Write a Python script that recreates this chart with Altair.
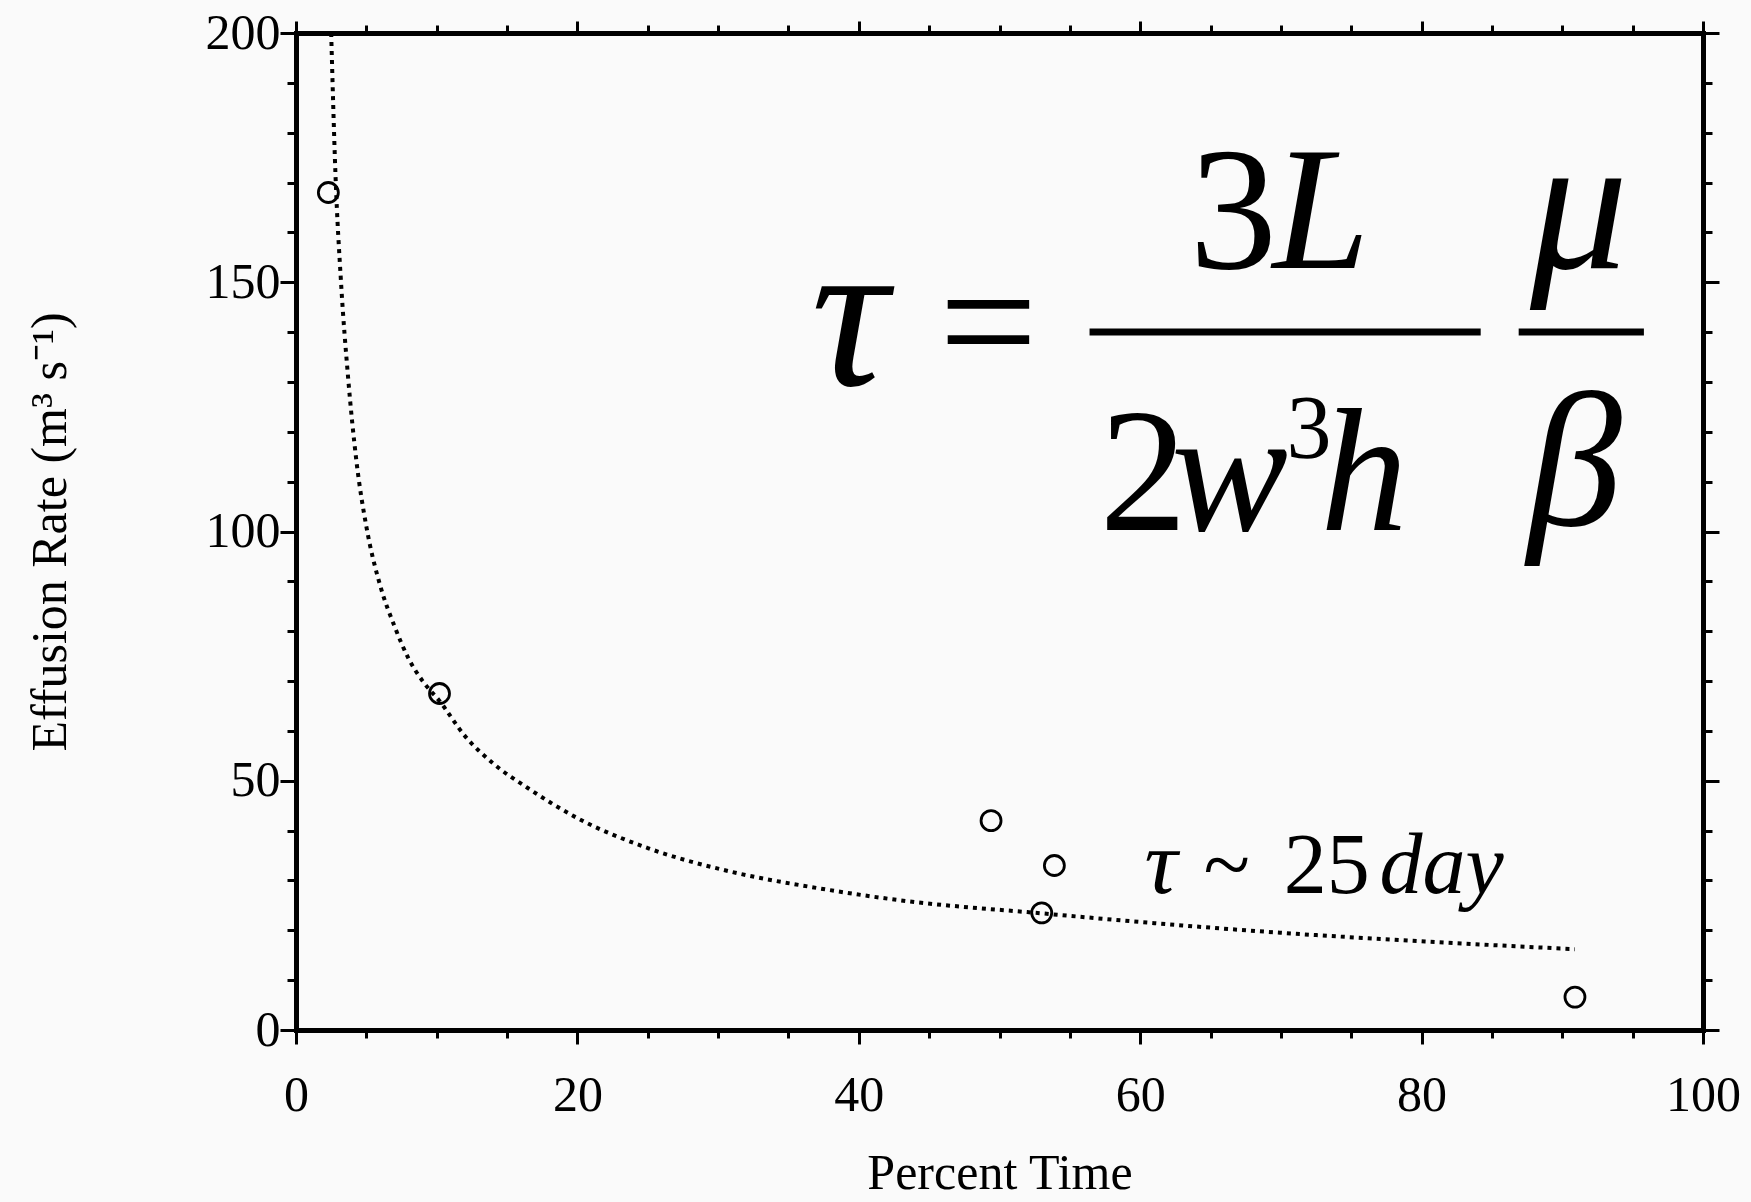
import altair as alt
import pandas as pd

# Observed effusion rates (m^3/s) against percent of time
pct_time = [2.3, 10.2, 49.4, 53.0, 53.9, 90.9]
effusion = [168, 67.5, 42, 23.5, 33, 6.6]

# Fitted decay curve (dotted)
fit_time = [2.5, 2.8, 3.2, 3.7, 4.3, 5.0, 6.0, 7.0, 8.0, 9.0, 10.2, 12.0,
            14.0, 16.5, 20.0, 25.0, 31.0, 37.0, 43.0, 53.0, 62.0, 70.0, 80.0, 90.9]
fit_rate = [200, 172, 150, 131, 114, 101, 89, 81, 74.5, 70, 66, 59,
            53.5, 48.5, 42.5, 36.5, 31.7, 28.5, 26, 23.4, 21.2, 19.5, 17.8, 16.2]

# Equation annotation pieces: text, left x, baseline y, font size
italic_text = ["τ", "L", "w", "h", "μ", "β", "τ", "day"]
italic_x = [36.6, 69.4, 62.2, 72.8, 87.7, 87.5, 60.3, 77.0]
italic_y = [129.4, 152.9, 100.3, 100.3, 152.9, 101.3, 27.5, 27.5]
italic_size = [215, 175, 175, 175, 195, 190, 92, 86]

upright_text = ["=", "3", "2", "3", "~", "25"]
upright_x = [45.7, 63.5, 57.1, 70.4, 64.5, 70.2]
upright_y = [130.4, 152.9, 100.3, 114.7, 27.5, 27.5]
upright_size = [175, 175, 175, 90, 86, 86]

# Fraction bars: start, end, height
bar_x = [56.4, 86.9]
bar_x2 = [84.2, 95.8]
bar_y = [140.0, 140.0]

SERIF = "Liberation Serif"
W, H = 1407, 997

pts = pd.DataFrame({"t": pct_time, "q": effusion})
fit = pd.DataFrame({"t": fit_time, "q": fit_rate})
ital = pd.DataFrame({"x": italic_x, "y": italic_y, "s": italic_size, "txt": italic_text})
upr = pd.DataFrame({"x": upright_x, "y": upright_y, "s": upright_size, "txt": upright_text})
bars = pd.DataFrame({"x": bar_x, "x2": bar_x2, "y": bar_y})

xs = alt.Scale(domain=[0, 100], nice=False, zero=False)
ys = alt.Scale(domain=[0, 200], nice=False)

x_ticks = list(range(0, 101, 5))
y_ticks = list(range(0, 201, 10))


def tick_len(step, major, minor):
    return {"condition": {"test": f"datum.value % {step} === 0", "value": major}, "value": minor}


common_axis = dict(
    grid=False, domainColor="black", domainWidth=5, domainCap="square",
    tickColor="black", tickWidth=3, labelFont=SERIF, labelColor="black",
    titleFont=SERIF, titleColor="black", titleFontWeight="normal",
    labelOverlap=False,
)

x_bottom = alt.Axis(
    values=x_ticks, tickSize=tick_len(20, 14, 8),
    labelExpr="datum.value % 20 === 0 ? datum.label : ''",
    labelFontSize=50, labelPadding=26, labelFlush=False,
    title="Percent Time", titleFontSize=50, titleY=143, titleBaseline="middle",
    **common_axis,
)
y_left = alt.Axis(
    values=y_ticks, tickSize=tick_len(50, 16, 9),
    labelExpr="datum.value % 50 === 0 ? datum.label : ''",
    labelFontSize=50, labelPadding=0, labelFlush=False,
    title="Effusion Rate (m³ s⁻¹)", titleFontSize=50, titleX=-246,
    titleBaseline="middle", titleAngle=-90,
    **common_axis,
)
x_top = alt.Axis(orient="top", values=x_ticks, tickSize=tick_len(20, 12, 8),
                 labels=False, title=None, **common_axis)
y_right = alt.Axis(orient="right", values=y_ticks, tickSize=tick_len(50, 16, 9),
                   labels=False, title=None, **common_axis)

curve = alt.Chart(fit).mark_line(
    color="black", strokeWidth=4, strokeDash=[4, 5], interpolate="monotone", clip=True
).encode(
    x=alt.X("t:Q", scale=xs, axis=x_bottom),
    y=alt.Y("q:Q", scale=ys, axis=y_left),
)

frame = alt.Chart(pts).mark_point(opacity=0).encode(
    x=alt.X("t:Q", scale=xs, axis=x_top),
    y=alt.Y("q:Q", scale=ys, axis=y_right),
)

circles = alt.Chart(pts).mark_point(
    shape="circle", filled=False, color="black", opacity=1, strokeWidth=2.8, size=400
).encode(
    x=alt.X("t:Q", scale=xs, axis=None),
    y=alt.Y("q:Q", scale=ys, axis=None),
)

italic_layer = alt.Chart(ital).mark_text(
    font=SERIF, fontStyle="italic", align="left", baseline="alphabetic", color="black"
).encode(
    x=alt.X("x:Q", scale=xs, axis=None),
    y=alt.Y("y:Q", scale=ys, axis=None),
    size=alt.Size("s:Q", scale=None, legend=None),
    text="txt:N",
)

upright_layer = alt.Chart(upr).mark_text(
    font=SERIF, align="left", baseline="alphabetic", color="black"
).encode(
    x=alt.X("x:Q", scale=xs, axis=None),
    y=alt.Y("y:Q", scale=ys, axis=None),
    size=alt.Size("s:Q", scale=None, legend=None),
    text="txt:N",
)

fraction_bars = alt.Chart(bars).mark_rule(color="black", strokeWidth=7).encode(
    x=alt.X("x:Q", scale=xs, axis=None),
    x2="x2:Q",
    y=alt.Y("y:Q", scale=ys, axis=None),
)

chart = alt.layer(
    frame, curve, circles, fraction_bars, italic_layer, upright_layer
).resolve_axis(
    x="independent", y="independent"
).properties(
    width=W, height=H,
    autosize=alt.AutoSizeParams(type="none"),
    padding={"left": 296, "top": 33, "right": 48, "bottom": 172},
    background="#fafafa",
).configure_view(stroke=None)

chart.save("out.html", embed_options={"renderer": "svg", "actions": False})
